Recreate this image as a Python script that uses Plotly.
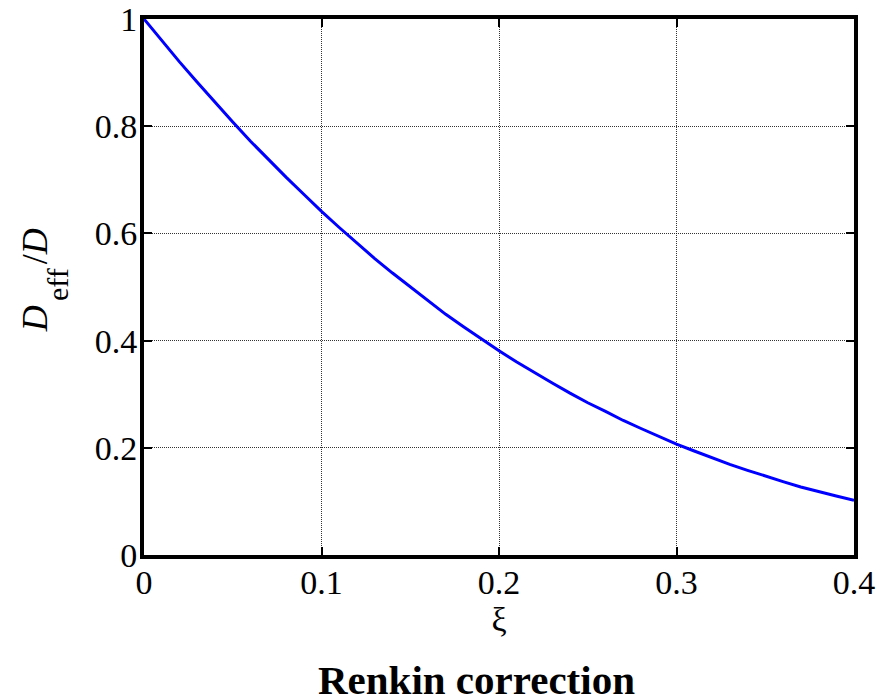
import plotly.graph_objects as go

xi = [0.00, 0.01, 0.02, 0.03, 0.04, 0.05, 0.06, 0.07, 0.08, 0.09,
      0.10, 0.11, 0.12, 0.13, 0.14, 0.15, 0.16, 0.17, 0.18, 0.19,
      0.20, 0.21, 0.22, 0.23, 0.24, 0.25, 0.26, 0.27, 0.28, 0.29,
      0.30, 0.31, 0.32, 0.33, 0.34, 0.35, 0.36, 0.37, 0.38, 0.39, 0.40]
deff_ratio = [1.000, 0.959, 0.920, 0.882, 0.844, 0.808, 0.772, 0.738, 0.705, 0.673,
              0.641, 0.611, 0.582, 0.553, 0.526, 0.500, 0.474, 0.449, 0.426, 0.403,
              0.381, 0.360, 0.340, 0.321, 0.302, 0.284, 0.268, 0.251, 0.236, 0.221,
              0.207, 0.194, 0.181, 0.169, 0.158, 0.147, 0.137, 0.127, 0.118, 0.110, 0.102]

x_ticks = [0, 0.1, 0.2, 0.3, 0.4]
x_tick_labels = ["0", "0.1", "0.2", "0.3", "0.4"]
y_ticks = [0, 0.2, 0.4, 0.6, 0.8, 1.0]
y_tick_labels = ["0", "0.2", "0.4", "0.6", "0.8", "1"]

font_family = "Liberation Serif, Times New Roman, serif"

fig = go.Figure()
fig.add_trace(go.Scatter(x=xi, y=deff_ratio, mode="lines",
                         line=dict(color="#0000ff", width=3),
                         showlegend=False, hoverinfo="skip"))

axis_common = dict(
    showline=True, linecolor="black", linewidth=4, mirror="ticks",
    ticks="inside", ticklen=8, tickwidth=2, tickcolor="black",
    showgrid=True, gridcolor="rgba(0,0,0,0.8)", gridwidth=1, griddash="1px,1px",
    zeroline=False, ticklabeloverflow="allow", automargin=False,
    tickfont=dict(family=font_family, size=34, color="black"),
)

ylab_font = dict(family=font_family, size=36, color="black")

fig.update_layout(
    width=890, height=700,
    margin=dict(l=144, r=36, t=19, b=145, autoexpand=False),
    paper_bgcolor="white", plot_bgcolor="white",
    xaxis=dict(range=[0, 0.4], tickvals=x_ticks, ticktext=x_tick_labels,
               ticklabelstandoff=-6,
               title=dict(text="ξ", font=dict(family=font_family, size=34, color="black"),
                          standoff=0),
               **axis_common),
    yaxis=dict(range=[0, 1], tickvals=y_ticks, ticktext=y_tick_labels,
               ticklabelstandoff=-4,
               **axis_common),
    annotations=[
        dict(text="<b>Renkin correction</b>", xref="paper", yref="paper",
             x=0.469, y=-0.2328, xanchor="center", yanchor="middle", showarrow=False,
             font=dict(family=font_family, size=41, color="black")),
        dict(text="<i>D</i>", xref="paper", yref="paper",
             x=-0.1538, y=0.4412, xanchor="center", yanchor="middle", showarrow=False,
             textangle=-90, font=ylab_font),
        dict(text="eff", xref="paper", yref="paper",
             x=-0.1218, y=0.5047, xanchor="center", yanchor="middle", showarrow=False,
             textangle=-90, font=dict(family=font_family, size=30, color="black")),
        dict(text="/<i>D</i>", xref="paper", yref="paper",
             x=-0.1538, y=0.5755, xanchor="center", yanchor="middle", showarrow=False,
             textangle=-90, font=ylab_font),
    ],
)

fig.write_html("out.html", config={"displayModeBar": False},
               post_script="document.body.style.margin='0';document.body.style.overflow='hidden';")
